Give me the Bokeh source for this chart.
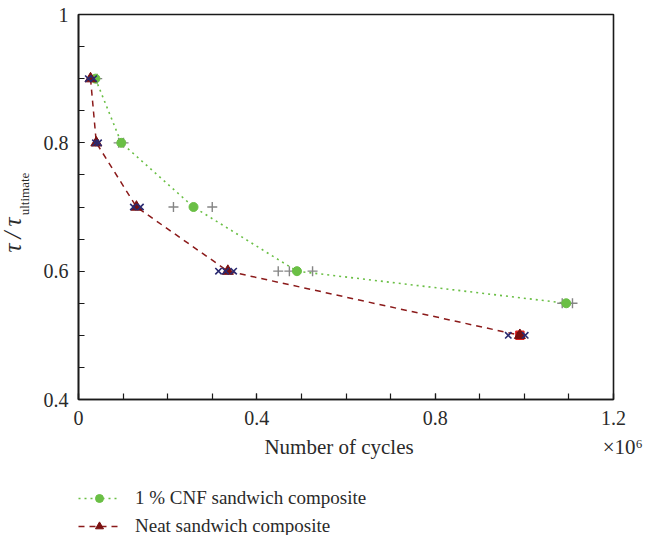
import math
from bokeh.plotting import figure
from bokeh.layouts import column
from bokeh.models import Range1d, Legend, LegendItem, FixedTicker, CustomJSTickFormatter, Title
from bokeh.embed import file_html
from bokeh.resources import INLINE

# ---- data (number of cycles in units of 1e6) ----
cnf_mean_x = [0.038, 0.096, 0.258, 0.49, 1.094]
cnf_mean_y = [0.9, 0.8, 0.7, 0.6, 0.55]
cnf_samp_x = [0.042, 0.090, 0.101, 0.213, 0.300, 0.448, 0.473, 0.525, 1.085, 1.108]
cnf_samp_y = [0.9, 0.8, 0.8, 0.7, 0.7, 0.6, 0.6, 0.6, 0.55, 0.55]

neat_mean_x = [0.027, 0.040, 0.130, 0.335, 0.990]
neat_mean_y = [0.9, 0.8, 0.7, 0.6, 0.5]
neat_samp_x = [0.022, 0.034, 0.038, 0.045, 0.123, 0.139, 0.314, 0.330, 0.348, 0.964, 1.002]
neat_samp_y = [0.9, 0.9, 0.8, 0.8, 0.7, 0.7, 0.6, 0.6, 0.6, 0.5, 0.5]
extra_x = [0.990]
extra_y = [0.5]

x_ticks = [0, 0.4, 0.8, 1.2]
y_ticks = [0.4, 0.6, 0.8, 1.0]

series_labels = ["1 % CNF sandwich composite", "Neat sandwich composite"]

FONT = "Liberation Serif"
TXT = "#2a2a2a"
NB = "\u00a0"
GREEN = "#6abf45"
DRED = "#7a1010"

p = figure(width=651, height=470, output_backend="svg", toolbar_location=None,
           x_range=Range1d(0, 1.2), y_range=Range1d(0.4, 1.0),
           min_border_left=78, min_border_right=38, min_border_top=14, min_border_bottom=71)
p.frame_width = 535
p.frame_height = 385
p.grid.visible = False
p.background_fill_color = "white"
p.outline_line_color = "#1a1a1a"
p.outline_line_width = 1.6

for ax in (p.xaxis[0], p.yaxis[0]):
    ax.axis_line_width = 1.6
    ax.axis_line_color = "#1a1a1a"
    ax.major_tick_in = 6
    ax.major_tick_out = 0
    ax.minor_tick_in = 6
    ax.minor_tick_out = 0
    ax.major_tick_line_width = 1.2
    ax.minor_tick_line_width = 1.2
    ax.major_tick_line_color = "#1a1a1a"
    ax.minor_tick_line_color = "#1a1a1a"
    ax.major_label_text_font = FONT
    ax.major_label_text_font_size = "20px"
    ax.major_label_text_color = TXT

p.xaxis.ticker = FixedTicker(ticks=x_ticks, minor_ticks=[i / 10 for i in range(13)])
p.yaxis.ticker = FixedTicker(ticks=y_ticks, minor_ticks=[0.4 + i * 0.05 for i in range(13)])
p.xaxis.formatter = CustomJSTickFormatter(code="return tick == 0 ? '0' : tick.toFixed(1);")
p.yaxis.formatter = CustomJSTickFormatter(code="return Math.abs(tick-1)<1e-9 ? '1' : tick.toFixed(1);")
p.xaxis.major_label_standoff = 11
p.yaxis.major_label_standoff = 10

# x-axis label, with the x10^6 multiplier at the right end
p.xaxis.axis_label = NB * 41 + "Number of cycles" + NB * 36 + "×10⁶"
p.xaxis.axis_label_text_font = FONT
p.xaxis.axis_label_text_font_style = "normal"
p.xaxis.axis_label_text_font_size = "21px"
p.xaxis.axis_label_text_color = TXT
p.xaxis.axis_label_standoff = 7

# y-axis label: subscript part as axis label, tau/tau as a title
p.yaxis.axis_label = NB * 8 + "ultimate"
p.yaxis.axis_label_text_font = FONT
p.yaxis.axis_label_text_font_style = "normal"
p.yaxis.axis_label_text_font_size = "13px"
p.yaxis.axis_label_text_color = TXT
p.yaxis.axis_label_standoff = 9

tau = Title(text="τ\u2009/\u2009τ", align="left", offset=147, vertical_align="bottom", standoff=-24,
            text_font=FONT, text_font_style="italic", text_font_size="25px", text_color=TXT)
p.add_layout(tau, "left")

# CNF series
p.line(cnf_mean_x, cnf_mean_y, line_color=GREEN, line_dash="2 4", line_width=1.6)
p.scatter(cnf_samp_x, cnf_samp_y, marker="cross", size=10, line_color="#858585", line_width=1.4)
p.scatter(cnf_mean_x, cnf_mean_y, marker="circle", size=9, fill_color=GREEN, line_color=GREEN)

# Neat series
p.line(neat_mean_x, neat_mean_y, line_color="#8b1a1a", line_dash="6 5", line_width=1.5)
p.scatter(extra_x, extra_y, marker="square", size=8, fill_color="#6a0e0e", line_color="#e02020", line_width=1.5)
p.scatter(neat_mean_x, neat_mean_y, marker="triangle", size=11, fill_color=DRED, line_color=DRED)
p.scatter(neat_samp_x, neat_samp_y, marker="x", size=9, line_color="#2a2a70", line_width=1.6)

# ---- legend strip below the chart (its renderers lie outside this strip's view) ----
q = figure(width=651, height=65, output_backend="svg", toolbar_location=None,
           x_axis_location=None, y_axis_location=None,
           x_range=Range1d(10, 11), y_range=Range1d(10, 11),
           min_border_left=76, min_border_top=17, min_border_right=0, min_border_bottom=0)
q.grid.visible = False
q.outline_line_color = None
lg_cnf_line = q.line(cnf_mean_x, cnf_mean_y, line_color=GREEN, line_dash="2 4", line_width=1.6)
lg_cnf_pts = q.scatter(cnf_mean_x, cnf_mean_y, marker="circle", size=9, fill_color=GREEN, line_color=GREEN)
lg_neat_line = q.line(neat_mean_x, neat_mean_y, line_color="#8b1a1a", line_dash="6 5", line_width=1.5)
lg_neat_pts = q.scatter(neat_mean_x, neat_mean_y, marker="triangle", size=11, fill_color=DRED, line_color=DRED)

legend = Legend(items=[
    LegendItem(label=series_labels[0], renderers=[lg_cnf_line, lg_cnf_pts]),
    LegendItem(label=series_labels[1], renderers=[lg_neat_line, lg_neat_pts]),
], location="top_left", orientation="vertical",
   label_text_font=FONT, label_text_font_size="19px", label_text_color=TXT,
   glyph_width=42, glyph_height=20, label_height=20, label_standoff=15, spacing=6,
   padding=0, margin=0, border_line_color=None, background_fill_alpha=0)
q.add_layout(legend, "center")

layout = column(p, q, spacing=0)
open("out.html", "w").write(file_html(layout, INLINE))
